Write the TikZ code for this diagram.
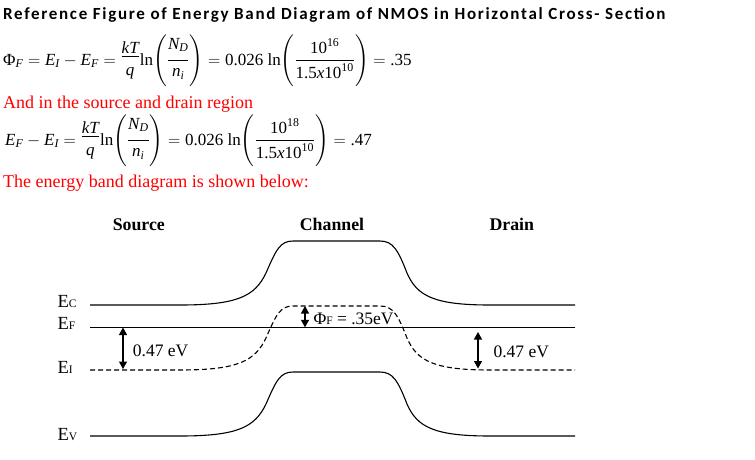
\RequirePackage{fix-cm}
\documentclass[tikz,border=0pt]{standalone}
\usepackage{amsmath}
\usepackage{fontspec}
\setmainfont{Liberation Serif}
\newfontfamily\titlefont[LetterSpace=10]{Carlito}
\usetikzlibrary{arrows.meta}
\newcommand\ti[1]{\textit{#1}}
\newcommand\tr[1]{\textrm{#1}}
\newcommand\fkt{\raisebox{4.75pt}{$\displaystyle\frac{\raisebox{-4.6pt}[7pt][0pt]{$\ti{kT}$}}{\raisebox{-4pt}{$\ti{q}$}}$}}
\newcommand\fnd{\frac{\raisebox{4.4pt}{$\ti{N}_{\ti{D}}$}}{\ti{n}_{\ti{i}}}}
\newcommand\fnum[1]{\frac{\tr{10}^{\tr{#1}}}{\raisebox{-2pt}{$\tr{1.5}\ti{x}\tr{10}^{\tr{10}}$}}}
\newcommand\bp[1]{\left(\rule[-21pt]{0pt}{50pt}#1\right)}
\newcommand\eqbox[1]{\raisebox{0pt}[30pt][21pt]{#1}}
\tikzset{
  band/.style={line width=1.1pt, line join=round},
  intr/.style={line width=1.1pt, dash pattern=on 5pt off 3pt},
  dimarrow/.style={line width=1.2pt, {Triangle[length=7.5pt,width=8pt]}-{Triangle[length=7.5pt,width=8pt]}},
  lbl/.style={inner sep=0pt, anchor=base west},
  hdr/.style={inner sep=0pt, anchor=base, font=\fontsize{17.8}{20}\selectfont\bfseries},
  eqn/.style={lbl, font=\fontsize{17}{20}\selectfont},
  note/.style={lbl, text=red, font=\fontsize{18}{20}\selectfont},
  bandshape/.pic={
    \draw[pic actions] (90,305) -- (180,305)
      .. controls (238,305) and (255,296) .. (266,273)
      .. controls (276,250) and (280,241) .. (293,241) -- (380,241)
      .. controls (393,241) and (398,250) .. (407,273)
      .. controls (417,296) and (434,305) .. (490,305) -- (575,305);
  }
}
\begin{document}
\begin{tikzpicture}[x=1pt,y=-1pt]
\useasboundingbox (0,0) rectangle (755,459);
% header text
\node[lbl, font=\titlefont\fontsize{17}{19}\selectfont\bfseries] (title) at (3,19.3)
  {Reference Figure of Energy Band Diagram of NMOS in Horizontal Cross- Section};
\node[eqn] (eq1) at (3,65) {\eqbox{$\displaystyle \tr{Φ}_{\ti{F}} = \ti{E}_{\ti{I}} - \ti{E}_{\ti{F}} = \fkt\tr{ln}\!\bp{\fnd} = \tr{0.026 ln}\!\bp{\fnum{16}} = \tr{.35}$}};
\node[note] (n1) at (3,108) {And in the source and drain region};
\node[eqn] (eq2) at (5,145) {\eqbox{$\displaystyle \ti{E}_{\ti{F}} - \ti{E}_{\ti{I}} = \fkt\tr{ln}\!\bp{\fnd} = \tr{0.026 ln}\!\bp{\fnum{18}} = \tr{.47}$}};
\node[note] (n2) at (3,187.3) {The energy band diagram is shown below:};
% region headers
\node[hdr] (src) at (138.8,230.7) {Source};
\node[hdr] (chn) at (332,230.7) {Channel};
\node[hdr] (drn) at (511.8,230.7) {Drain};
% bands
\pic[band] at (0,0) {bandshape};
\pic[intr] at (0,65) {bandshape};
\pic[band] at (0,131) {bandshape};
\coordinate (efa) at (90,327.3);
\coordinate (efb) at (575,327.3);
\draw[band] (efa) -- (efb);
% band labels
\node[lbl, font=\fontsize{18.5}{20}\selectfont] (ec) at (57.3,307.3) {E{\fontsize{11.5}{12}\selectfont C}};
\node[lbl, font=\fontsize{18.5}{20}\selectfont] (ef) at (57.3,329) {E{\fontsize{11.5}{12}\selectfont F}};
\node[lbl, font=\fontsize{18.5}{20}\selectfont] (ei) at (57.3,373.3) {E{\fontsize{11.5}{12}\selectfont I}};
\node[lbl, font=\fontsize{18.5}{20}\selectfont] (ev) at (57.3,440) {E{\fontsize{11.5}{12}\selectfont V}};
% dimension arrows
\coordinate (la) at (123,327.5);
\coordinate (lb) at (123,369);
\draw[dimarrow] (la) -- (lb);
\node[lbl, font=\fontsize{17.5}{20}\selectfont] (lv) at (132.7,356.7) {0.47 eV};
\coordinate (ra) at (478,332);
\coordinate (rb) at (478,368.5);
\draw[dimarrow] (ra) -- (rb);
\node[lbl, font=\fontsize{17.5}{20}\selectfont] (rv) at (493.3,357.3) {0.47 eV};
\coordinate (pa) at (305,306);
\coordinate (pb) at (305,327.3);
\draw[dimarrow] (pa) -- (pb);
\node[lbl, font=\fontsize{17.5}{20}\selectfont] (phi) at (313.3,324) {Φ{\fontsize{11.5}{12}\selectfont F} = .35eV};
\end{tikzpicture}
\end{document}
